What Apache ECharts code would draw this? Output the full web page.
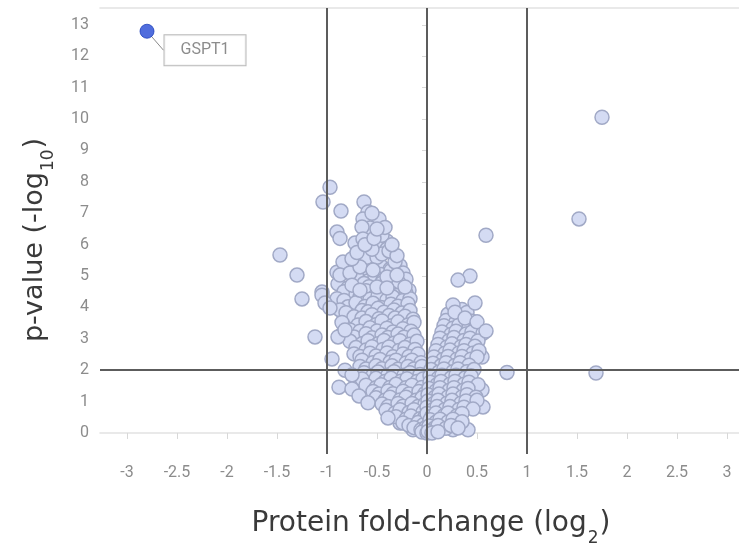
<!DOCTYPE html>
<html>
<head>
<meta charset="utf-8">
<script src="https://cdn.jsdelivr.net/npm/echarts@6/dist/echarts.min.js"></script>
<style>html,body{margin:0;padding:0;background:#fff;}#c{width:739px;height:550px;}</style>
</head>
<body>
<div id="c"></div>
<script>
// ---- data (log2 fold-change, -log10 p-value) ----
const xTicks = [-3, -2.5, -2, -1.5, -1, -0.5, 0, 0.5, 1, 1.5, 2, 2.5, 3];
const yTicks = [0, 1, 2, 3, 4, 5, 6, 7, 8, 9, 10, 11, 12, 13];
const cutoffX = [-1, 0, 1];
const cutoffY = [2];

const highlightName = 'GSPT1';
const highlightPoint = [-2.8, 12.8];

const leftOutliers = [
  [-0.97,7.83],[-1.04,7.36],[-0.86,7.07],[-0.63,7.36],[-0.59,7.04],[-0.64,6.82],[-0.48,6.82],
  [-0.57,6.53],[-0.65,6.56],[-0.9,6.4],[-0.87,6.2],[-0.72,6.05],[-0.64,6.18],[-0.4,6.11],
  [-0.5,5.92],[-0.4,5.86],[-1.47,5.67],[-1.3,5.03],[-1.25,4.27],[-1.05,4.49],[-1.05,4.39],
  [-1.02,4.14],[-0.97,3.98],[-1.12,3.06],[-0.89,3.06],[-0.82,3.28],[-0.95,2.36],[-0.82,2.0],
  [-0.75,1.85],[-0.88,1.46],[-0.75,1.4],[-0.68,1.18],[-0.59,0.96],[-0.39,0.48],
  [-0.84,5.45],[-0.69,5.51],[-0.6,5.6],[-0.5,5.6],[-0.32,5.45],[-0.87,5.03],[-0.77,5.1],
  [-0.67,5.29],[-0.54,5.19],[-0.4,4.97],[-0.3,5.03],[-0.22,4.65],[-0.75,4.71],[-0.67,4.55],
  [-0.5,4.65],[-0.4,4.62],[-0.75,5.55],[-0.45,5.7],[-0.38,5.8],[-0.3,5.65],[-0.7,5.75],
  [-0.55,5.85],[-0.62,6.0],[-0.45,6.3],[-0.53,6.2],[-0.35,6.0],[-0.42,6.55],[-0.5,6.5],[-0.55,7.0]
];

const leftWing = [
  [-0.75,4.14],[-0.69,3.85],[-0.6,3.44],[-0.5,3.69],[-0.39,3.5],[-0.27,3.5],[-0.67,2.96],
  [-0.57,2.58],[-0.44,2.58],[-0.34,2.39],[-0.24,2.87],[-0.2,2.55],[-0.57,1.69],[-0.45,1.59],
  [-0.34,1.46],[-0.24,1.37],[-0.14,1.27],[-0.17,0.96],[-0.3,1.05],[-0.07,0.83],[-0.1,0.51],
  [-0.04,0.32],[0,0.1],[-0.2,0.51],[-0.27,0.32],[-0.14,0.1],[-0.12,1.27],[-0.1,0.64],
  [-0.04,0.32],[-0.14,1.78],[-0.17,2.64],
  [-0.81,5.3],[-0.64,5.4],[-0.55,5.25],[-0.47,5.36],[-0.37,5.22],[-0.27,5.33],
  [-0.9,5.12],[-0.71,5.02],[-0.61,5.15],[-0.46,5.05],[-0.36,5.18],[-0.24,5.1],
  [-0.69,4.92],[-0.59,4.84],[-0.52,4.98],[-0.44,4.86],[-0.38,4.8],[-0.31,4.94],[-0.21,4.9],
  [-0.89,4.75],[-0.79,4.62],[-0.63,4.76],[-0.58,4.66],[-0.45,4.78],[-0.33,4.72],[-0.28,4.78],[-0.18,4.55],
  [-0.83,4.5],[-0.71,4.42],[-0.61,4.53],[-0.51,4.4],[-0.46,4.5],[-0.35,4.44],[-0.3,4.38],[-0.21,4.45],
  [-0.9,4.28],[-0.83,4.22],[-0.67,4.33],[-0.57,4.26],[-0.49,4.36],[-0.4,4.24],[-0.34,4.33],[-0.24,4.22],[-0.17,4.28],
  [-0.79,4.02],[-0.71,4.15],[-0.62,4.03],[-0.54,4.13],[-0.46,4.0],[-0.36,4.1],[-0.29,4.04],[-0.19,4.12],
  [-0.87,3.92],[-0.81,3.83],[-0.65,3.9],[-0.59,3.86],[-0.49,3.97],[-0.43,3.85],[-0.33,3.92],[-0.25,3.82],[-0.17,3.9],
  [-0.73,3.7],[-0.65,3.66],[-0.55,3.77],[-0.48,3.64],[-0.38,3.74],[-0.32,3.66],[-0.22,3.72],[-0.14,3.62],
  [-0.85,3.52],[-0.69,3.44],[-0.61,3.55],[-0.51,3.45],[-0.45,3.57],[-0.35,3.42],[-0.29,3.54],[-0.19,3.44],[-0.13,3.52],
  [-0.77,3.28],[-0.67,3.24],[-0.57,3.35],[-0.5,3.25],[-0.4,3.34],[-0.34,3.22],[-0.24,3.32],[-0.16,3.24],
  [-0.85,3.14],[-0.73,3.06],[-0.61,3.16],[-0.55,3.03],[-0.45,3.12],[-0.39,3.04],[-0.29,3.15],[-0.23,3.05],[-0.13,3.12],
  [-0.77,2.92],[-0.65,2.84],[-0.59,2.94],[-0.49,2.84],[-0.43,2.95],[-0.33,2.86],[-0.27,2.94],[-0.17,2.83],[-0.1,2.92],
  [-0.71,2.72],[-0.61,2.64],[-0.55,2.75],[-0.44,2.66],[-0.38,2.74],[-0.28,2.63],[-0.22,2.72],[-0.12,2.66],
  [-0.73,2.52],[-0.67,2.44],[-0.57,2.54],[-0.51,2.45],[-0.4,2.55],[-0.34,2.43],[-0.24,2.52],[-0.18,2.44],[-0.09,2.52],
  [-0.65,2.32],[-0.54,2.24],[-0.47,2.34],[-0.37,2.25],[-0.31,2.32],[-0.21,2.23],[-0.15,2.32],[-0.06,2.24],
  [-0.67,2.12],[-0.61,2.04],[-0.51,2.14],[-0.45,2.05],[-0.35,2.14],[-0.29,2.03],[-0.19,2.12],[-0.13,2.04],[-0.05,2.12],
  [-0.63,1.92],[-0.54,1.84],[-0.49,1.94],[-0.39,1.85],[-0.33,1.95],[-0.23,1.84],[-0.17,1.92],[-0.07,1.86],
  [-0.65,1.72],[-0.51,1.74],[-0.42,1.64],[-0.36,1.74],[-0.26,1.65],[-0.2,1.73],[-0.1,1.64],[-0.04,1.72],
  [-0.61,1.52],[-0.51,1.44],[-0.46,1.54],[-0.37,1.45],[-0.31,1.55],[-0.21,1.44],[-0.15,1.52],[-0.05,1.45],
  [-0.54,1.32],[-0.48,1.24],[-0.39,1.34],[-0.34,1.25],[-0.24,1.33],[-0.18,1.24],[-0.08,1.32],[-0.02,1.26],
  [-0.51,1.12],[-0.42,1.04],[-0.37,1.14],[-0.27,1.05],[-0.21,1.14],[-0.11,1.04],[-0.05,1.12],
  [-0.45,0.92],[-0.39,0.84],[-0.29,0.94],[-0.24,0.85],[-0.15,0.94],[-0.09,0.84],[-0.02,0.92],
  [-0.41,0.72],[-0.32,0.64],[-0.27,0.74],[-0.18,0.65],[-0.13,0.74],[-0.04,0.66],
  [-0.31,0.52],[-0.21,0.44],[-0.16,0.54],[-0.07,0.45],[-0.02,0.52],
  [-0.24,0.32],[-0.18,0.24],[-0.09,0.33],[-0.04,0.25],
  [-0.13,0.17],[-0.06,0.1],[-0.01,0.18],[-0.05,0.03],[0.0,0.0]
];

const rightWing = [
  [0.23,3.34],[0.36,3.28],[0.48,3.09],[0.55,2.42],[0.16,2.64],[0.23,2.42],[0.4,2.64],[0.45,2.23],
  [0.3,2.87],[0.23,1.85],[0.36,1.75],[0.41,1.62],[0.55,1.37],[0.56,0.83],[0.41,0.1],[0.26,0.1],
  [0.16,0.32],[0.13,1.27],[0.23,0.73],[0.33,0.96],[0.06,1.59],[0.1,0.83],[0.03,0.32],
  [0.27,4.0],[0.35,3.93],[0.21,3.78],[0.31,3.74],[0.4,3.84],
  [0.19,3.58],[0.29,3.54],[0.35,3.64],[0.45,3.56],
  [0.17,3.42],[0.26,3.34],[0.32,3.44],[0.42,3.36],[0.49,3.37],
  [0.15,3.22],[0.24,3.14],[0.29,3.24],[0.39,3.15],[0.45,3.22],[0.56,3.18],
  [0.13,3.02],[0.22,2.94],[0.27,3.04],[0.37,2.95],[0.43,3.02],[0.51,2.93],
  [0.11,2.82],[0.2,2.74],[0.25,2.84],[0.34,2.75],[0.39,2.82],[0.48,2.76],
  [0.09,2.62],[0.18,2.54],[0.23,2.64],[0.32,2.55],[0.37,2.62],[0.46,2.54],[0.52,2.62],
  [0.07,2.42],[0.16,2.34],[0.21,2.44],[0.3,2.35],[0.35,2.44],[0.44,2.35],[0.5,2.42],
  [0.06,2.22],[0.14,2.14],[0.19,2.24],[0.28,2.15],[0.33,2.24],[0.42,2.16],
  [0.04,2.02],[0.12,1.94],[0.17,2.04],[0.26,1.95],[0.31,2.04],[0.4,1.95],[0.47,2.02],
  [0.03,1.82],[0.11,1.74],[0.15,1.84],[0.24,1.75],[0.29,1.84],[0.38,1.75],[0.44,1.82],
  [0.03,1.62],[0.1,1.54],[0.14,1.64],[0.23,1.55],[0.28,1.64],[0.37,1.55],[0.42,1.62],[0.51,1.54],
  [0.02,1.42],[0.09,1.34],[0.13,1.44],[0.22,1.35],[0.27,1.44],[0.36,1.35],[0.41,1.42],
  [0.01,1.22],[0.08,1.14],[0.12,1.24],[0.21,1.15],[0.26,1.24],[0.35,1.15],[0.4,1.22],[0.49,1.14],
  [0.01,1.02],[0.07,0.94],[0.11,1.04],[0.2,0.95],[0.25,1.04],[0.34,0.95],[0.39,1.02],[0.5,1.04],
  [0.0,0.82],[0.06,0.74],[0.1,0.84],[0.18,0.75],[0.23,0.84],[0.32,0.75],[0.37,0.82],[0.46,0.76],
  [0.0,0.62],[0.05,0.54],[0.09,0.64],[0.17,0.55],[0.21,0.64],[0.3,0.55],[0.35,0.62],
  [0.03,0.42],[0.09,0.34],[0.13,0.44],[0.21,0.35],[0.26,0.44],[0.35,0.36],
  [0.02,0.22],[0.07,0.14],[0.11,0.24],[0.19,0.15],[0.24,0.24],[0.31,0.16],
  [0.01,0.05],[0.05,0.0],[0.11,0.04]
];

const rightOutliers = [
  [1.75,10.06],[1.52,6.82],[1.69,1.91],[0.8,1.93],[0.59,6.3],[0.43,5.0],[0.31,4.87],
  [0.48,4.14],[0.26,4.08],[0.28,3.85],[0.38,3.66],[0.5,3.54],[0.59,3.25]
];

// ---- chart ----
const chart = echarts.init(document.getElementById('c'), null, {renderer: 'canvas'});
const allPoints = [].concat(leftWing, rightWing, leftOutliers, rightOutliers);
const lineData = cutoffX.map(v => ({xAxis: v})).concat(cutoffY.map(v => ({yAxis: v})));

const tickFont = {fontFamily: 'Roboto', fontSize: 16, color: '#8c8c8c'};
const frameLine = {show: true, lineStyle: {color: '#e2e2e2', width: 1.5}};
const mkRich = (size) => ({
  t: {fontFamily: 'DejaVu Sans', fontSize: size, color: '#3a3a3a'},
  s: {fontFamily: 'DejaVu Sans', fontSize: 17, color: '#3a3a3a', verticalAlign: 'bottom', padding: [0, 1, -9, 1]}
});

chart.setOption({
  animation: false,
  backgroundColor: '#ffffff',
  grid: {left: 100, width: 654, top: 8, bottom: 96, show: false, containLabel: false, outerBoundsMode: 'none'},
  xAxis: [{
    type: 'value', min: -3.27, max: 3.27,
    splitLine: {show: false},
    axisLine: frameLine,
    axisTick: {show: true, length: 6, lineStyle: {color: '#d8d8d8'}, customValues: xTicks},
    axisLabel: Object.assign({margin: 11, customValues: xTicks}, tickFont),
    name: '{t|Protein fold-change (log}{s|2}{t|)}',
    nameLocation: 'middle', nameGap: 56,
    nameTextStyle: {rich: mkRich(28), padding: [0, 0, 0, 8]}
  }, {
    type: 'value', position: 'top', min: -3.27, max: 3.27,
    axisLine: frameLine, axisTick: {show: false}, axisLabel: {show: false}, splitLine: {show: false}
  }],
  yAxis: {
    type: 'value', min: -0.67, max: 13.54,
    splitLine: {show: false},
    axisLine: frameLine,
    axisTick: {show: true, length: 5, lineStyle: {color: '#d8d8d8'}, customValues: yTicks},
    axisLabel: Object.assign({margin: 11, customValues: yTicks}, tickFont),
    name: '{t|p-value (-log}{s|10}{t|)}',
    nameLocation: 'middle', nameGap: 52,
    nameTextStyle: {rich: mkRich(27), padding: [0, 18, 0, 0]}
  },
  series: [
    {
      type: 'scatter',
      data: allPoints,
      symbolSize: 14,
      itemStyle: {color: '#d4dbf3', borderColor: '#a1a9c6', borderWidth: 1.5, opacity: 1},
      silent: true,
      markLine: {
        silent: true, symbol: 'none', animation: false,
        label: {show: false},
        lineStyle: {color: '#5c5c5c', width: 2, type: 'solid'},
        data: lineData
      },
      z: 2
    },
    {
      type: 'scatter',
      data: [{value: highlightPoint, name: highlightName}],
      symbolSize: 14,
      itemStyle: {color: '#2449d4', borderColor: '#2244bb', borderWidth: 1},
      label: {
        show: true, position: 'inside', formatter: '{b}',
        fontFamily: 'Roboto', fontSize: 16, color: '#6f6f6f',
        backgroundColor: '#ffffff', borderColor: '#a8a8a8', borderWidth: 1,
        padding: [7, 16, 7, 16]
      },
      labelLayout: {dx: 58, dy: 19},
      labelLine: {show: true, lineStyle: {color: '#8a8a8a', width: 1}},
      z: 5
    }
  ]
});
</script>
</body>
</html>
